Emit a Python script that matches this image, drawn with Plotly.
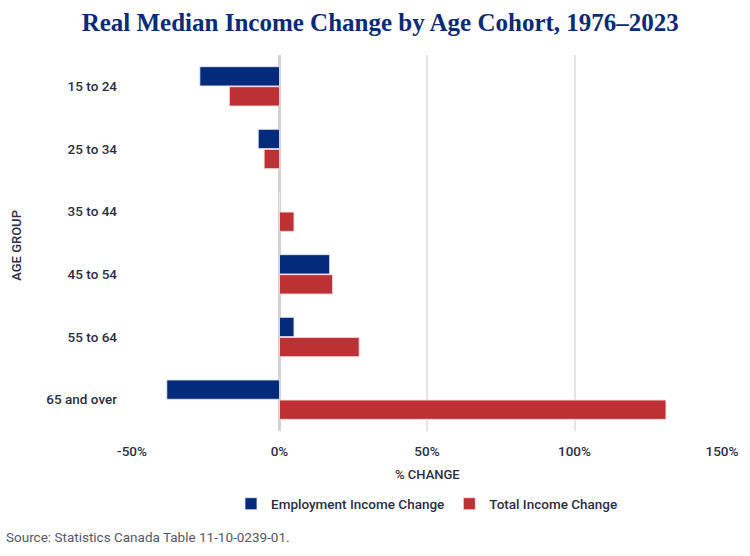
import plotly.graph_objects as go

age_groups = ["15 to 24", "25 to 34", "35 to 44", "45 to 54", "55 to 64", "65 and over"]
employment_change = [-27, -7.2, 0, 17, 4.9, -38.2]
total_change = [-17, -5.2, 4.9, 18, 27, 131]
x_ticks = [-50, 0, 50, 100, 150]
x_tick_labels = ["-50%", "0%", "50%", "100%", "150%"]

BLUE = "#042b7b"
RED = "#bd3034"
TXT = "#2b2e45"
SANS = "Roboto, Inter, 'Noto Sans', sans-serif"

fig = go.Figure()
fig.add_trace(go.Bar(
    y=age_groups, x=employment_change, orientation="h",
    name="Employment Income Change",
    marker=dict(color=BLUE, line=dict(color="#e8ecf5", width=0.8)),
))
fig.add_trace(go.Bar(
    y=age_groups, x=total_change, orientation="h",
    name="Total Income Change",
    marker=dict(color=RED, line=dict(color="#f5e3e3", width=0.8)),
))

fig.update_layout(
    width=750, height=556,
    margin=dict(l=132, r=28, t=55, b=125, autoexpand=False),
    paper_bgcolor="white", plot_bgcolor="white",
    barmode="group", bargap=0.36, bargroupgap=0.04,
    title=dict(
        text="<b>Real Median Income Change by Age Cohort, 1976–2023</b>",
        x=0.507, xanchor="center", y=0.96, yanchor="middle", xref="container",
        font=dict(family="'Liberation Serif', 'DejaVu Serif', serif", size=25, color="#0b2a78"),
    ),
    font=dict(family=SANS, size=13, color=TXT),
    legend=dict(
        orientation="h", x=0.5, xanchor="center", y=-0.194, yanchor="middle",
        font=dict(family=SANS, size=13.5, color=TXT, weight=500),
        traceorder="normal",
    ),
    showlegend=True,
)
fig.update_xaxes(
    range=[-50, 150], tickvals=x_ticks, ticktext=x_tick_labels,
    showgrid=True, gridcolor="#e4e4e4", gridwidth=1.5,
    zeroline=True, zerolinecolor="#d2d2d2", zerolinewidth=3,
    showline=False, ticks="", ticklabelstandoff=10, automargin=False,
    tickfont=dict(family=SANS, size=13.5, color=TXT, weight=500),
    fixedrange=True,
)
fig.update_yaxes(
    autorange="reversed", showgrid=False, showline=False, ticks="",
    ticklabelstandoff=14, automargin=False,
    tickfont=dict(family=SANS, size=13.5, color=TXT, weight=500),
)
fig.add_annotation(
    text="% CHANGE", xref="paper", yref="paper", x=0.5, y=-0.115,
    xanchor="center", yanchor="middle", showarrow=False,
    font=dict(family=SANS, size=13, color=TXT, weight=500),
)
fig.add_annotation(
    text="AGE GROUP", xref="paper", yref="paper", x=-0.195, y=0.495,
    xanchor="center", yanchor="middle", showarrow=False, textangle=-90,
    font=dict(family=SANS, size=13, color=TXT, weight=500),
)
fig.add_annotation(
    text="Source: Statistics Canada Table 11-10-0239-01.", xref="paper", yref="paper",
    x=-0.217, y=-0.282, xanchor="left", yanchor="middle", showarrow=False,
    font=dict(family=SANS, size=13.5, color="#555a66"),
)

fig.write_html("out.html", config={"displayModeBar": False},
               post_script="document.body.style.margin='0';")
